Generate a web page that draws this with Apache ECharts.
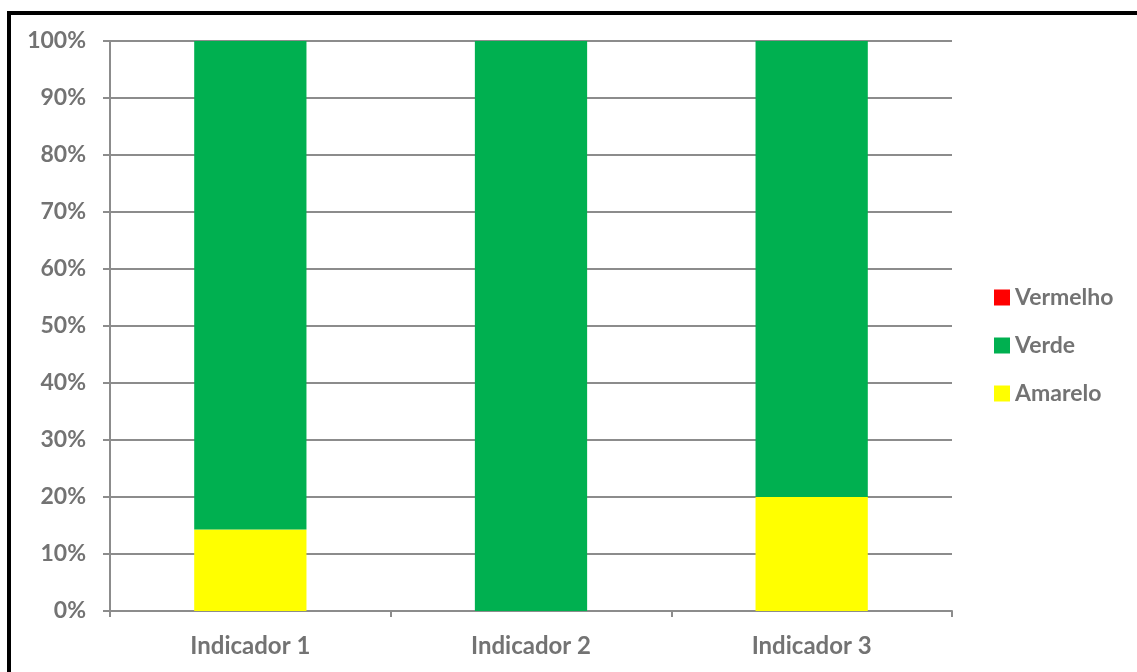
<!DOCTYPE html>
<html>
<head>
<meta charset="utf-8">
<script src="https://cdn.jsdelivr.net/npm/echarts@6/dist/echarts.min.js"></script>
<style>
html,body{margin:0;padding:0;background:#fff;}
#c{width:1137px;height:672px;}
</style>
</head>
<body>
<div id="c"></div>
<script>
var categories = ['Indicador 1', 'Indicador 2', 'Indicador 3'];
var seriesNames = ['Vermelho', 'Verde', 'Amarelo'];
var vermelho = [0, 0, 0];
var verde = [85.7, 100, 80];
var amarelo = [14.3, 0, 20];
var yTicks = [0, 10, 20, 30, 40, 50, 60, 70, 80, 90, 100];
var colors = { Vermelho: '#FF0000', Verde: '#00B050', Amarelo: '#FFFF00' };

var FONT = 'Lato, "Open Sans", sans-serif';
var chart = echarts.init(document.getElementById('c'));
chart.setOption({
  animation: false,
  backgroundColor: '#fff',
  graphic: [{
    type: 'polyline',
    shape: { points: [[9, 700], [9, 13], [1200, 13]] },
    style: { stroke: '#000', lineWidth: 4, fill: null }
  }],
  legend: {
    orient: 'vertical',
    left: 994,
    top: 286,
    padding: 0,
    itemWidth: 16,
    itemHeight: 16,
    itemGap: 25,
    icon: 'rect',
    data: seriesNames,
    textStyle: { fontFamily: FONT, fontWeight: 'bold', fontSize: 23, color: '#737373' }
  },
  grid: { left: 110, right: 185, top: 41, bottom: 61, containLabel: false },
  xAxis: {
    type: 'category',
    data: categories,
    boundaryGap: true,
    axisLine: { lineStyle: { color: '#8c8c8c', width: 2 } },
    axisTick: { show: true, length: 6, alignWithLabel: false, lineStyle: { color: '#8c8c8c', width: 2 } },
    axisLabel: { fontFamily: FONT, fontWeight: 'bold', fontSize: 24, color: '#737373', margin: 23 }
  },
  yAxis: {
    type: 'value',
    min: yTicks[0],
    max: yTicks[yTicks.length - 1],
    interval: 10,
    axisLine: { show: true, lineStyle: { color: '#8c8c8c', width: 2 } },
    axisTick: { show: true, length: 7, lineStyle: { color: '#8c8c8c', width: 2 } },
    splitLine: { show: true, lineStyle: { color: '#8c8c8c', width: 2 } },
    axisLabel: { fontFamily: FONT, fontWeight: 'bold', fontSize: 23, color: '#737373', margin: 24, formatter: '{value}%' }
  },
  series: [
    { name: 'Amarelo', type: 'bar', stack: 't', data: amarelo, barWidth: '40%', itemStyle: { color: colors.Amarelo } },
    { name: 'Verde', type: 'bar', stack: 't', data: verde, barWidth: '40%', itemStyle: { color: colors.Verde } },
    { name: 'Vermelho', type: 'bar', stack: 't', data: vermelho, barWidth: '40%', itemStyle: { color: colors.Vermelho } }
  ]
});
</script>
</body>
</html>
